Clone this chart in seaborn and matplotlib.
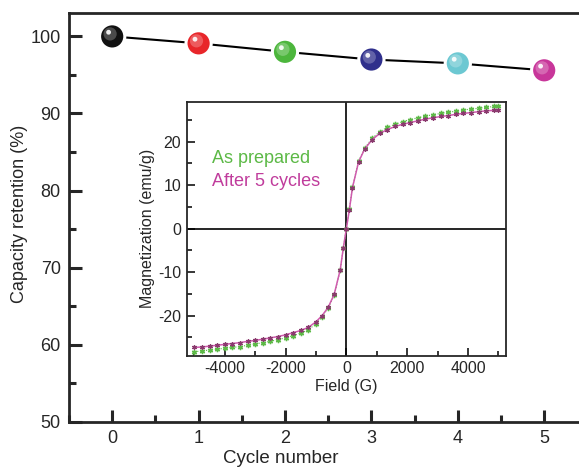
import numpy as np
import pandas as pd
import matplotlib
matplotlib.use("Agg")
import matplotlib.pyplot as plt
import matplotlib.transforms as mtransforms
from matplotlib.ticker import MultipleLocator
import seaborn as sns

# === Daten ===
cycles = [0, 1, 2, 3, 4, 5]
retention = [100.0, 99.1, 98.0, 97.0, 96.5, 95.6]
sphere_colors = ["#111111", "#e8262a", "#4cb63c", "#2f2f8c", "#6cc8d2", "#c8369a"]

field = [-5000, -4750, -4500, -4250, -4000, -3750, -3500, -3250, -3000, -2750,
         -2500, -2250, -2000, -1750, -1500, -1250, -1000, -800, -600, -400,
         -200, -100, 0, 100, 200, 400, 600, 850, 1100, 1350,
         1600, 1850, 2100, 2350, 2600, 2850, 3100, 3350, 3600, 3850,
         4100, 4350, 4600, 4850, 5000]
mag_prepared = [-28.3, -28.1, -27.9, -27.7, -27.5, -27.3, -27.1, -26.8, -26.5, -26.2,
                -25.9, -25.5, -25.1, -24.6, -24.0, -23.3, -21.8, -20.3, -18.3, -15.3,
                -9.5, -4.5, 0.0, 4.5, 9.5, 15.5, 18.5, 20.8, 22.3, 23.3,
                24.0, 24.6, 25.1, 25.5, 25.9, 26.2, 26.5, 26.8, 27.0, 27.3,
                27.5, 27.7, 27.9, 28.1, 28.3]
mag_cycled = [-27.3, -27.2, -27.0, -26.8, -26.6, -26.4, -26.2, -25.9, -25.7, -25.4,
              -25.1, -24.8, -24.4, -23.9, -23.4, -22.7, -21.4, -20.0, -18.1, -15.1,
              -9.4, -4.4, 0.0, 4.4, 9.4, 15.3, 18.3, 20.5, 21.9, 22.8,
              23.5, 24.0, 24.4, 24.8, 25.2, 25.5, 25.8, 26.0, 26.3, 26.5,
              26.7, 26.9, 27.1, 27.2, 27.3]

GREEN = "#5cb946"
MAGENTA = "#c03c9c"

sns.set_theme(style="ticks")
plt.rcParams["font.family"] = ["Liberation Sans", "DejaVu Sans"]
plt.rcParams["axes.unicode_minus"] = False
plt.rcParams["xtick.direction"] = "in"
plt.rcParams["ytick.direction"] = "in"

fig = plt.figure(figsize=(5.79, 4.67), dpi=100)
fig.patch.set_facecolor("white")

# === Hauptachse ===
ax = fig.add_axes([69 / 579, 45.3 / 467, 518.4 / 579, 408.4 / 467])
df = pd.DataFrame({"cycle": cycles, "retention": retention,
                   "label": [str(c) for c in cycles]})
sns.lineplot(data=df, x="cycle", y="retention", ax=ax, color="black",
             linewidth=1.5, zorder=2)
sns.scatterplot(data=df, x="cycle", y="retention", hue="label",
                palette=sphere_colors, s=330, edgecolor="white", linewidth=2.2,
                legend=False, ax=ax, zorder=3)

# Glanzpunkte auf den Kugeln
def shifted(dx, dy):
    return ax.transData + mtransforms.ScaledTranslation(dx / 72, dy / 72, fig.dpi_scale_trans)

lighter = [tuple(0.55 * np.array(matplotlib.colors.to_rgb(c)) + 0.45) for c in sphere_colors]
ax.scatter(cycles, retention, s=90, c=lighter, edgecolors="none", alpha=0.55,
           transform=shifted(-1.5, 1.8), zorder=4)
ax.scatter(cycles, retention, s=12, c="white", edgecolors="none", alpha=0.9,
           transform=shifted(-2.6, 3.0), zorder=5)

ax.set_xlim(-0.5, 5.5)
ax.set_ylim(50, 103)
ax.xaxis.set_major_locator(MultipleLocator(1))
ax.xaxis.set_minor_locator(MultipleLocator(0.5))
ax.yaxis.set_major_locator(MultipleLocator(10))
ax.yaxis.set_minor_locator(MultipleLocator(5))
ax.tick_params(which="major", length=9, width=2.2, labelsize=13, pad=6)
ax.tick_params(which="minor", length=5, width=2.2)
for s in ax.spines.values():
    s.set_linewidth(2.0)
ax.set_xlabel("Cycle number", fontsize=13.5)
ax.xaxis.set_label_coords(0.409, -0.07)
ax.set_ylabel("Capacity retention (%)", fontsize=13)
ax.yaxis.set_label_coords(-0.08, 0.51)

# === Inset: Magnetisierung ===
ins = fig.add_axes([186.7 / 579, 111.3 / 467, 319.3 / 579, 254.0 / 467])
prep_df = pd.DataFrame({"field": field, "mag": mag_prepared})
cyc_df = pd.DataFrame({"field": field, "mag": mag_cycled})
sns.lineplot(data=prep_df, x="field", y="mag", color=GREEN, linewidth=0.8,
             linestyle=":", marker=(6, 2, 0), markersize=3.8, markeredgewidth=1.0,
             markeredgecolor=GREEN, ax=ins, zorder=3)
sns.lineplot(data=cyc_df, x="field", y="mag", color="#d05aae", linewidth=1.1,
             marker=(6, 2, 0), markersize=3.4, markeredgewidth=0.9,
             markeredgecolor="#8a3a6e", ax=ins, zorder=4)
ins.axhline(0, color="black", linewidth=1.2, zorder=1)
ins.axvline(0, color="black", linewidth=1.2, zorder=1)
ins.set_xlim(-5250, 5250)
ins.set_ylim(-29.2, 29.2)
ins.xaxis.set_major_locator(MultipleLocator(2000))
ins.xaxis.set_minor_locator(MultipleLocator(1000))
ins.yaxis.set_major_locator(MultipleLocator(10))
ins.yaxis.set_minor_locator(MultipleLocator(5))
ins.tick_params(which="major", length=6, width=1.3, labelsize=11.5, pad=4)
ins.tick_params(which="minor", length=3.5, width=1.3)
for s in ins.spines.values():
    s.set_linewidth(1.3)
ins.set_xlabel("Field (G)", fontsize=11.5, labelpad=2)
ins.set_ylabel("Magnetization (emu/g)", fontsize=11.5, labelpad=2)
ins.text(0.08, 0.775, "As prepared", color=GREEN, fontsize=13,
         transform=ins.transAxes, va="center")
ins.text(0.08, 0.685, "After 5 cycles", color=MAGENTA, fontsize=13,
         transform=ins.transAxes, va="center")

fig.savefig("out.png", dpi=100, facecolor="white")
